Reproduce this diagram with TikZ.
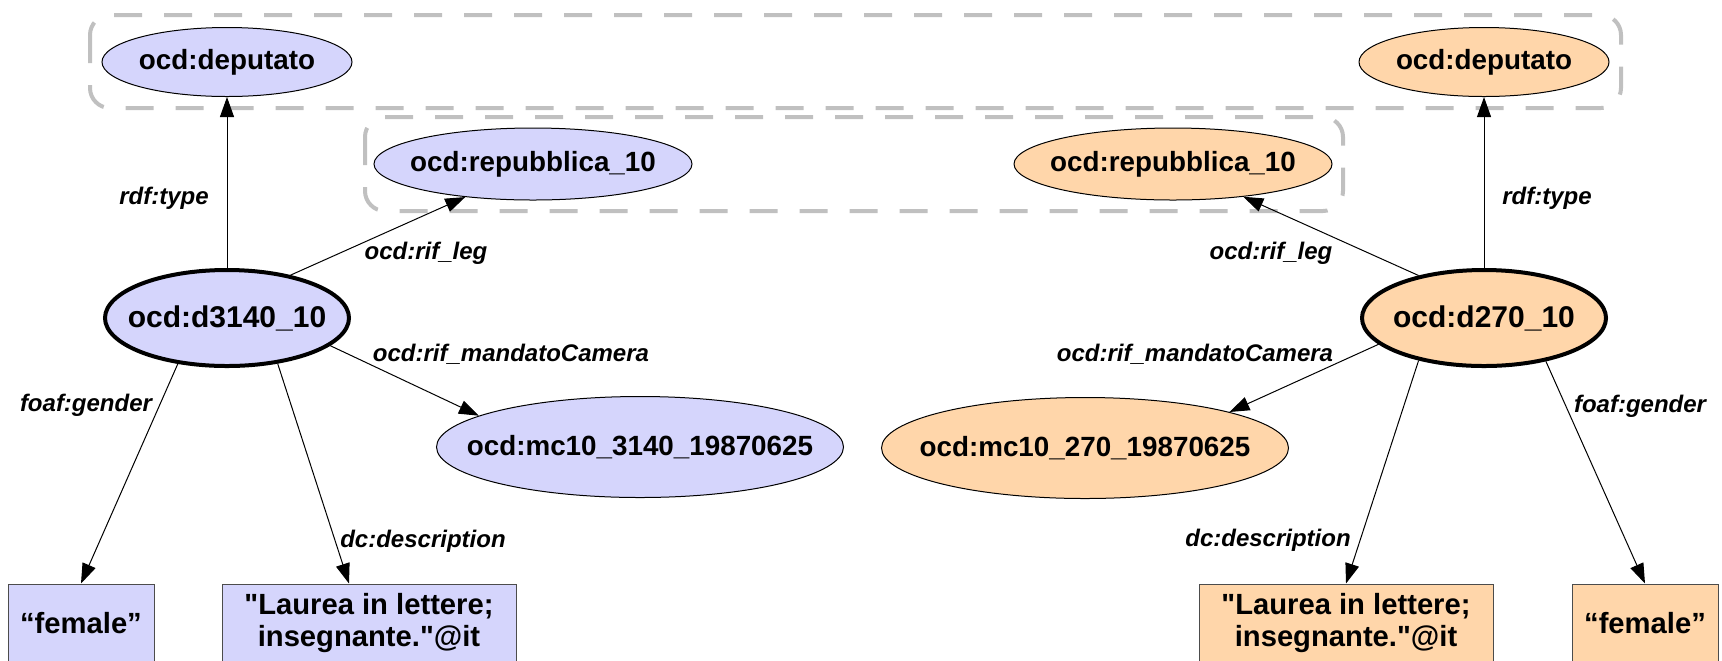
\documentclass[tikz,border=0pt]{standalone}
\usepackage{fontspec}
\setmainfont{Liberation Sans}[Ligatures=TeXOff]
\usetikzlibrary{arrows.meta,shapes.geometric}
\definecolor{lavender}{RGB}{213,213,252}
\definecolor{peach}{RGB}{255,214,170}
\definecolor{groupgray}{RGB}{192,192,192}

\begin{document}
\begin{tikzpicture}[x=0.5pt, y=-0.5pt, >={Triangle[length=10pt,width=7pt]},
  every node/.style={font=\bfseries\fontsize{13.9}{16}\selectfont},
  res/.style={ellipse, draw=black, line width=0.5pt, inner sep=0pt},
  subj/.style={res, line width=2pt, font=\bfseries\fontsize{15}{17}\selectfont},
  lit/.style={rectangle, draw=black!70, line width=0.5pt, align=center, inner sep=2pt, minimum height=39pt, font=\bfseries\fontsize{14.6}{16}\selectfont},
  lbl/.style={font=\bfseries\itshape\fontsize{12}{14}\selectfont, inner sep=0pt},
  grp/.style={draw=groupgray, line width=2pt, dash pattern=on 14pt off 11pt, rounded corners=10pt},
  edge/.style={->, line width=0.5pt}]
\useasboundingbox (0,0) rectangle (1722,660);
\clip (0,0) rectangle (1722,660);
\draw[grp] (90,15) rectangle (1621,108);
\draw[grp] (365,117) rectangle (1343,211);
\node[res,fill=lavender,minimum width=125pt,minimum height=34.5pt] (depL) at (227,62) {\makebox[0pt]{ocd:deputato}};
\node[res,fill=lavender,minimum width=159pt,minimum height=36pt] (repL) at (533,164) {\makebox[0pt]{ocd:repubblica\_10}};
\node[subj,fill=lavender,minimum width=122pt,minimum height=48pt] (d3140) at (227,318) {\makebox[0pt]{ocd:d3140\_10}};
\node[res,fill=lavender,minimum width=203.5pt,minimum height=50.5pt] (mcL) at (640,447) {\makebox[0pt]{ocd:mc10\_3140\_19870625}};
\node[lit,fill=lavender,minimum width=73pt] (femL) at (81,623) {“female”};
\node[lit,fill=lavender,minimum width=147pt] (lauL) at (369,623) {"Laurea in lettere;\\insegnante."@it};
\node[res,fill=peach,minimum width=125pt,minimum height=34.5pt] (depR) at (1484,62) {\makebox[0pt]{ocd:deputato}};
\node[res,fill=peach,minimum width=159pt,minimum height=36pt] (repR) at (1173,164) {\makebox[0pt]{ocd:repubblica\_10}};
\node[subj,fill=peach,minimum width=122pt,minimum height=48pt] (d270) at (1484,318) {\makebox[0pt]{ocd:d270\_10}};
\node[res,fill=peach,minimum width=203.5pt,minimum height=50.5pt] (mcR) at (1085,448) {\makebox[0pt]{ocd:mc10\_270\_19870625}};
\node[lit,fill=peach,minimum width=147pt] (lauR) at (1346,623) {"Laurea in lettere;\\insegnante."@it};
\node[lit,fill=peach,minimum width=73pt] (femR) at (1645,623) {“female”};
\draw[edge] (d3140.north) -- (depL.south);
\draw[edge] (d3140.34) -- (repL.206);
\draw[edge] (d3140.-15) -- (mcL.169);
\draw[edge] (d3140.223) -- (femL.north);
\draw[edge] (d3140.318) -- ([xshift=-10pt]lauL.north);
\draw[edge] (d270.north) -- (depR.south);
\draw[edge] (d270.147) -- (repR.335);
\draw[edge] (d270.194) -- (mcR.14);
\draw[edge] (d270.213) -- (lauR.north);
\draw[edge] (d270.325) -- (femR.north);
\node[lbl] (typeL) at (164,198) {rdf:type};
\node[lbl] (legL) at (426,253) {ocd:rif\_leg};
\node[lbl] (mandL) at (511,354) {ocd:rif\_mandatoCamera};
\node[lbl] (genL) at (86,405) {foaf:gender};
\node[lbl] (descL) at (423,541) {dc:description};
\node[lbl] (typeR) at (1547,198) {rdf:type};
\node[lbl] (legR) at (1271,253) {ocd:rif\_leg};
\node[lbl] (mandR) at (1195,354) {ocd:rif\_mandatoCamera};
\node[lbl] (genR) at (1640,406) {foaf:gender};
\node[lbl] (descR) at (1268,540) {dc:description};
\end{tikzpicture}
\end{document}
